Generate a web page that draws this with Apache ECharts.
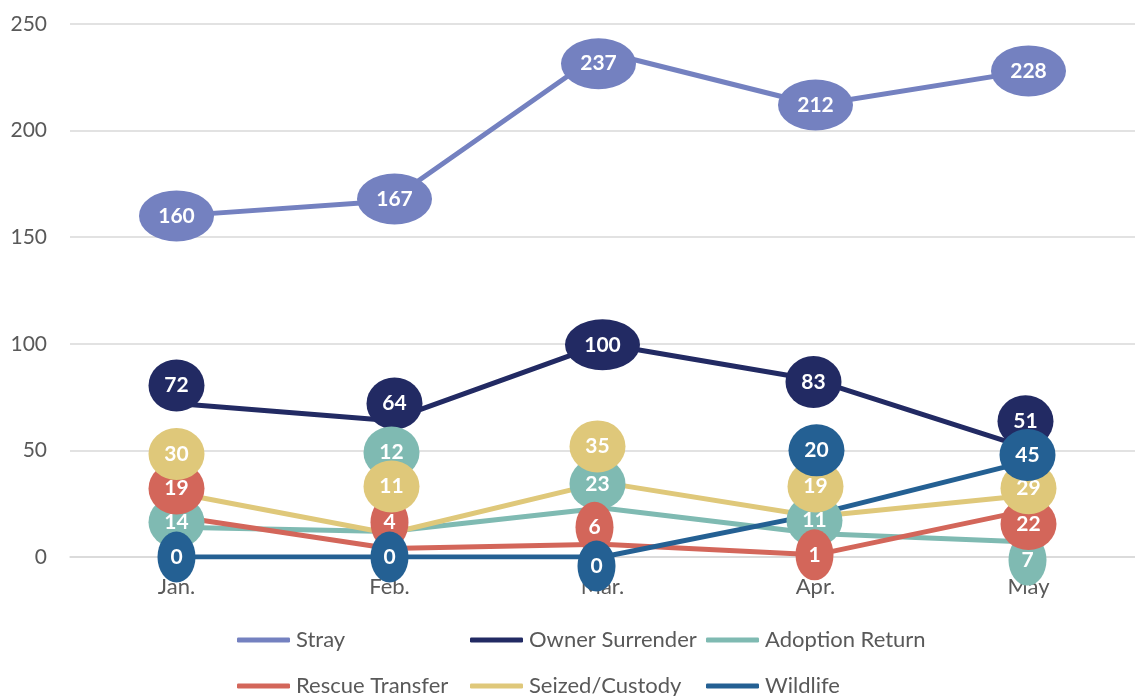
<!DOCTYPE html>
<html>
<head>
<meta charset="utf-8">
<script src="https://cdn.jsdelivr.net/npm/echarts@6/dist/echarts.min.js"></script>
<style>
  html, body { margin: 0; padding: 0; background: #fff; }
  #chart { width: 1135px; height: 696px; }
</style>
</head>
<body>
<div id="chart"></div>
<script>
  'use strict';

  // data
  const months = ['Jan.', 'Feb.', 'Mar.', 'Apr.', 'May'];
  const stray = [160, 167, 237, 212, 228];
  const ownerSurrender = [72, 64, 100, 83, 51];
  const adoptionReturn = [14, 12, 23, 11, 7];
  const rescueTransfer = [19, 4, 6, 1, 22];
  const seizedCustody = [30, 11, 35, 19, 29];
  const wildlife = [0, 0, 0, 20, 45];
  const yTicks = [0, 50, 100, 150, 200, 250];

  const seriesDefs = [
    { name: 'Stray', values: stray, color: '#7481c0' },
    { name: 'Owner Surrender', values: ownerSurrender, color: '#222a63' },
    { name: 'Adoption Return', values: adoptionReturn, color: '#7fbab2' },
    { name: 'Rescue Transfer', values: rescueTransfer, color: '#d3665a' },
    { name: 'Seized/Custody', values: seizedCustody, color: '#dfc87a' },
    { name: 'Wildlife', values: wildlife, color: '#246093' }
  ];

  // pixel nudges for the bubble labels, so they sit like the original
  const labelNudge = {
    'Stray': [[0, 0], [5, -2], [-4, 12], [0, 0], [0, 0]],
    'Owner Surrender': [[0, -18], [5, -17], [0, 1], [-2, 2], [-3, -27]],
    'Adoption Return': [[0, -5], [2, -79], [-5, -24], [-1, -13], [-1, 18]],
    'Rescue Transfer': [[0, -28], [0, -26], [-8, -17], [-1, 0], [0, 14]],
    'Seized/Custody': [[0, -39], [2, -47], [-5, -36], [0, -30], [0, -7]],
    'Wildlife': [[0, 0], [0, 0], [-6, 9], [1, -64], [-1, -6]]
  };

  const legendSlots = [[237, 629], [470, 629], [706, 629], [237, 675], [470, 675], [706, 675]];

  const FONT = 'Lato, "Open Sans", sans-serif';
  const GREY = '#595959';

  function bubbleSize(v) {
    const len = String(v).length;
    if (len >= 3) return [75, 51];
    if (len === 2) return [56, 52];
    return [38, 51];
  }

  const series = [];
  seriesDefs.forEach((def) => {
    series.push({
      type: 'line',
      name: def.name,
      data: def.values,
      showSymbol: false,
      z: 2,
      lineStyle: { color: def.color, width: 5 },
      itemStyle: { color: def.color },
      emphasis: { disabled: true }
    });
  });
  seriesDefs.forEach((def, k) => {
    const nudge = labelNudge[def.name];
    series.push({
      type: 'scatter',
      name: def.name,
      z: 3 + k,
      symbol: 'circle',
      data: def.values.map((v, i) => ({
        value: v,
        symbolSize: bubbleSize(v),
        symbolOffset: nudge[i]
      })),
      itemStyle: { color: def.color, opacity: 1 },
      label: {
        show: true,
        position: 'inside',
        color: '#fff',
        fontFamily: FONT,
        fontWeight: 'bold',
        fontSize: 21
      },
      emphasis: { disabled: true }
    });
  });

  const option = {
    animation: false,
    backgroundColor: '#fff',
    grid: { left: 70, right: -5, top: 24, bottom: 139 },
    xAxis: {
      type: 'category',
      data: months,
      boundaryGap: true,
      axisTick: { show: false },
      axisLine: { lineStyle: { color: '#d9d9d9', width: 1.5 } },
      axisLabel: { color: GREY, fontSize: 22, fontFamily: FONT, margin: 19 }
    },
    yAxis: {
      type: 'value',
      min: yTicks[0],
      max: yTicks[yTicks.length - 1],
      interval: yTicks[1] - yTicks[0],
      axisLine: { show: false },
      axisTick: { show: false },
      splitLine: { lineStyle: { color: '#d9d9d9', width: 1.5 } },
      axisLabel: { color: GREY, fontSize: 21, fontFamily: FONT, margin: 23 }
    },
    legend: seriesDefs.map((def, i) => ({
      data: [def.name],
      left: legendSlots[i][0],
      top: legendSlots[i][1],
      padding: 0,
      icon: 'roundRect',
      itemWidth: 53,
      itemHeight: 5,
      itemGap: 0,
      selectedMode: false,
      textStyle: { color: GREY, fontSize: 22, fontFamily: FONT, padding: [0, 0, 0, 1] }
    })),
    series
  };

  const chart = echarts.init(document.getElementById('chart'));
  chart.setOption(option);
</script>
</body>
</html>
